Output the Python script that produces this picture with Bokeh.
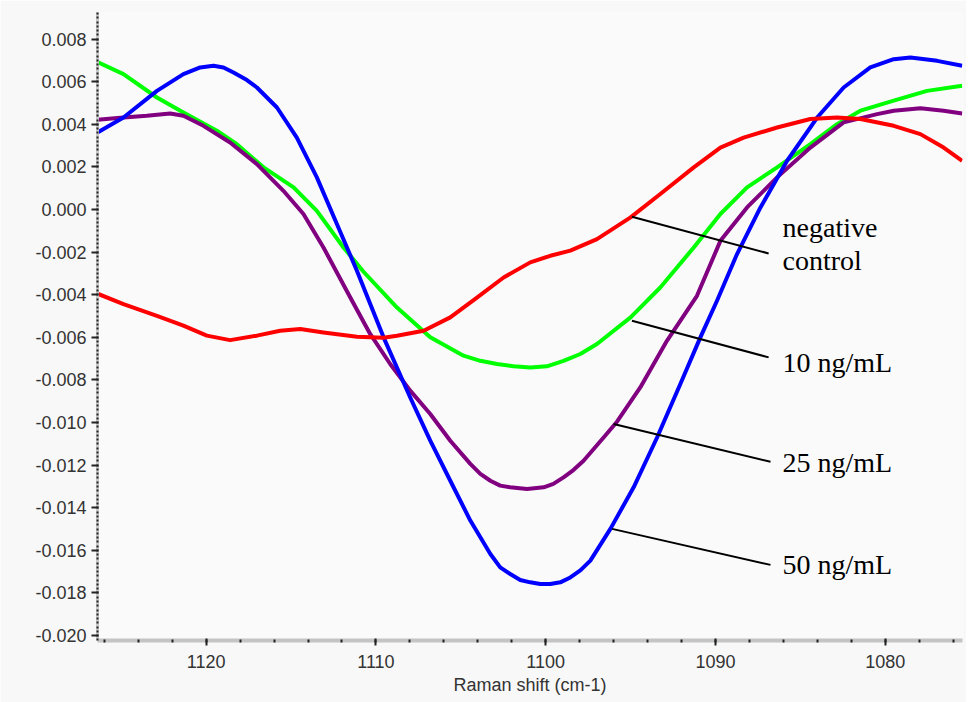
from bokeh.plotting import figure
from bokeh.models import Range1d, SingleIntervalTicker, NumeralTickFormatter, ColumnDataSource
from bokeh.core.properties import value
from bokeh.embed import file_html
from bokeh.resources import INLINE

# ---------------- data ----------------
# Raman shift (cm-1) and intensity, one pair of arrays per series
x_50 = [1126.40, 1124.87, 1122.90, 1121.34, 1120.35, 1119.57, 1118.98, 1118.39, 1117.60,
        1117.01, 1115.83, 1114.66, 1113.48, 1112.30, 1111.12, 1109.55, 1107.98, 1106.80,
        1105.62, 1104.44, 1103.26, 1102.68, 1102.09, 1101.50, 1100.91, 1100.32, 1099.73,
        1099.14, 1098.55, 1097.96, 1097.37, 1096.19, 1094.82, 1093.44, 1092.07, 1090.89,
        1089.91, 1088.73, 1087.35, 1085.78, 1084.01, 1082.45, 1080.88, 1079.50, 1078.52,
        1076.94, 1075.47]
y_50 = [0.00362, 0.00432, 0.00557, 0.00636, 0.00667, 0.00675, 0.00667, 0.00643, 0.00608,
        0.00573, 0.00479, 0.00338, 0.00151, -0.00068, -0.00287, -0.00600, -0.00882, -0.01085,
        -0.01273, -0.01460, -0.01617, -0.01680, -0.01711, -0.01739, -0.01750, -0.01758, -0.01758,
        -0.01750, -0.01727, -0.01694, -0.01648, -0.01499, -0.01304, -0.01070, -0.00819, -0.00600,
        -0.00428, -0.00209, 0.00010, 0.00229, 0.00432, 0.00573, 0.00667, 0.00706, 0.00714,
        0.00698, 0.00675]

x_25 = [1126.40, 1124.87, 1123.50, 1122.12, 1121.34, 1120.16, 1118.59, 1117.01, 1115.45,
        1114.27, 1113.09, 1111.51, 1110.34, 1109.16, 1107.98, 1106.80, 1105.62, 1104.44,
        1103.85, 1103.26, 1102.68, 1102.09, 1101.10, 1100.12, 1099.55, 1098.95, 1098.37,
        1097.77, 1096.59, 1095.80, 1094.43, 1092.86, 1091.09, 1089.71, 1088.14, 1086.37,
        1084.41, 1082.45, 1080.48, 1079.50, 1077.93, 1076.56, 1075.47]
y_25 = [0.00422, 0.00432, 0.00440, 0.00451, 0.00440, 0.00393, 0.00315, 0.00213, 0.00088,
        -0.00021, -0.00178, -0.00413, -0.00584, -0.00725, -0.00850, -0.00960, -0.01085, -0.01194,
        -0.01241, -0.01273, -0.01296, -0.01304, -0.01312, -0.01304, -0.01288, -0.01257, -0.01223,
        -0.01179, -0.01070, -0.00996, -0.00835, -0.00616, -0.00405, -0.00147, 0.00010, 0.00151,
        0.00291, 0.00409, 0.00448, 0.00464, 0.00476, 0.00464, 0.00451]

x_10 = [1126.40, 1124.87, 1122.90, 1121.34, 1119.37, 1118.19, 1116.62, 1114.85, 1113.48,
        1111.91, 1110.73, 1108.76, 1106.80, 1104.84, 1103.85, 1102.87, 1101.89, 1100.91,
        1099.93, 1098.95, 1097.96, 1096.98, 1095.00, 1093.25, 1091.28, 1089.71, 1088.14,
        1086.37, 1084.41, 1082.84, 1081.46, 1079.50, 1077.54, 1075.47]
y_10 = [0.00692, 0.00636, 0.00526, 0.00456, 0.00370, 0.00307, 0.00198, 0.00104, -0.00006,
        -0.00178, -0.00292, -0.00460, -0.00600, -0.00686, -0.00710, -0.00725, -0.00736, -0.00741,
        -0.00736, -0.00710, -0.00678, -0.00631, -0.00506, -0.00366, -0.00178, -0.00021, 0.00104,
        0.00198, 0.00307, 0.00401, 0.00464, 0.00511, 0.00557, 0.00581]

x_neg = [1126.40, 1124.87, 1122.90, 1121.34, 1119.96, 1118.59, 1117.01, 1115.64, 1114.46,
         1113.09, 1111.12, 1109.55, 1108.76, 1107.19, 1105.62, 1104.05, 1102.48, 1100.91,
         1099.73, 1098.55, 1096.98, 1095.00, 1093.25, 1091.28, 1089.71, 1088.34, 1086.37,
         1084.41, 1082.84, 1081.46, 1079.50, 1077.93, 1076.56, 1075.47]
y_neg = [-0.00395, -0.00444, -0.00499, -0.00545, -0.00592, -0.00613, -0.00592, -0.00569, -0.00561,
         -0.00577, -0.00597, -0.00602, -0.00592, -0.00569, -0.00506, -0.00413, -0.00319, -0.00248,
         -0.00217, -0.00193, -0.00139, -0.00037, 0.00073, 0.00198, 0.00291, 0.00338, 0.00385,
         0.00425, 0.00432, 0.00425, 0.00393, 0.00354, 0.00291, 0.00229]

# annotation labels and their leader lines
label_text = ["negative", "control", "10 ng/mL", "25 ng/mL", "50 ng/mL"]
label_x = [1086.05, 1086.05, 1086.05, 1086.05, 1086.05]
label_y = [-0.00086, -0.00240, -0.00718, -0.01187, -0.01664]

leader_x0 = [1094.92, 1094.92, 1096.00, 1096.09]
leader_y0 = [-0.00034, -0.00522, -0.01007, -0.01499]
leader_x1 = [1086.87, 1086.87, 1086.76, 1086.76]
leader_y1 = [-0.00206, -0.00694, -0.01184, -0.01668]

# ---------------- figure ----------------
p = figure(width=966, height=702, output_backend="svg", toolbar_location=None,
           x_range=Range1d(1126.4, 1075.45), y_range=Range1d(-0.02023, 0.00925),
           min_border_left=97, min_border_right=4, min_border_top=12, min_border_bottom=62,
           background_fill_color="#fafafa", border_fill_color="#f8f8f8",
           outline_line_color=None)

p.grid.grid_line_color = None

p.xaxis.ticker = SingleIntervalTicker(interval=10, num_minor_ticks=5)
p.yaxis.ticker = SingleIntervalTicker(interval=0.002, num_minor_ticks=10)
p.yaxis.formatter = NumeralTickFormatter(format="0.000")

for ax in (p.xaxis[0], p.yaxis[0]):
    ax.major_label_text_font = "Liberation Sans"
    ax.major_label_text_font_size = "18px"
    ax.major_label_text_color = "#333333"
    ax.major_tick_line_color = "#222222"
    ax.major_tick_line_width = 2
    ax.minor_tick_line_color = "#222222"
    ax.minor_tick_line_width = 2

p.xaxis.axis_line_color = "#c4c4c4"
p.xaxis.axis_line_width = 4
p.xaxis.major_tick_in = 2
p.xaxis.major_tick_out = 5
p.xaxis.minor_tick_in = 1
p.xaxis.minor_tick_out = 2
p.xaxis.major_label_standoff = 9
p.xaxis.axis_label = "Raman shift (cm-1)"
p.xaxis.axis_label_text_font = "Liberation Sans"
p.xaxis.axis_label_text_font_size = "18px"
p.xaxis.axis_label_text_font_style = "normal"
p.xaxis.axis_label_text_color = "#333333"
p.xaxis.axis_label_standoff = 4

p.yaxis.axis_line_color = "#c8c8c8"
p.yaxis.axis_line_width = 3
p.yaxis.major_tick_in = 1
p.yaxis.major_tick_out = 6
p.yaxis.minor_tick_in = 1
p.yaxis.minor_tick_out = 1
p.yaxis.major_label_standoff = 5

lw = 4
p.line(x_10, y_10, line_color="#00ff00", line_width=lw, line_join="round")
p.line(x_25, y_25, line_color="#800080", line_width=lw, line_join="round")
p.line(x_50, y_50, line_color="#0000ff", line_width=lw, line_join="round")
p.line(x_neg, y_neg, line_color="#ff0000", line_width=lw, line_join="round")

p.segment(x0=leader_x0, y0=leader_y0, x1=leader_x1, y1=leader_y1,
          line_color="black", line_width=2)

src = ColumnDataSource(dict(x=label_x, y=label_y, t=label_text))
p.text(x="x", y="y", text="t", source=src, text_font=value("Liberation Serif"),
       text_font_size=value("28px"), text_color="black",
       text_align="left", text_baseline="middle")

open("out.html", "w").write(file_html(p, INLINE))
